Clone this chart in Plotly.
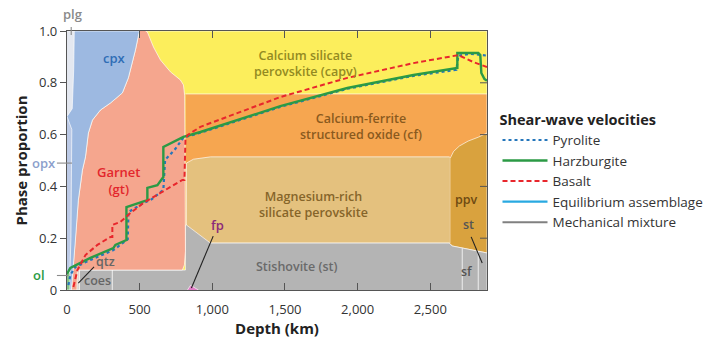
import plotly.graph_objects as go

# ---------------- axes ----------------
DEPTH_MAX = 2890
depth_ticks = [0, 500, 1000, 1500, 2000, 2500]
depth_tick_text = ["0", "500", "1,000", "1,500", "2,000", "2,500"]
prop_ticks = [0, 0.2, 0.4, 0.6, 0.8, 1.0]
prop_tick_text = ["0", "0.2", "0.4", "0.6", "0.8", "1.0"]

# ---------------- phase fields (depth km, cumulative proportion) ----------------
capv_depth = [0, DEPTH_MAX, DEPTH_MAX, 0]
capv_prop = [0, 0, 1.0, 1.0]

cf_depth = [815, DEPTH_MAX, DEPTH_MAX, 815]
cf_prop = [0, 0, 0.757, 0.757]

mgpv_depth = [822, 822, 870, 987, 2630, 2638, 2638, 987]
mgpv_prop = [0.251, 0.49, 0.505, 0.514, 0.514, 0.51, 0.181, 0.181]

ppv_depth = [2638, 2660, 2700, 2760, 2830, DEPTH_MAX, DEPTH_MAX, 2650, 2638]
ppv_prop = [0.51, 0.535, 0.556, 0.575, 0.59, 0.606, 0.143, 0.170, 0.178]

st_depth = [85, 85, 815, 815, 822, 987, 2630, 2650, DEPTH_MAX, DEPTH_MAX]
st_prop = [0, 0.077, 0.077, 0.251, 0.251, 0.181, 0.181, 0.170, 0.143, 0]

qtz_depth = [68, 85, 85, 72]
qtz_prop = [0, 0, 0.077, 0.077]

# cpx / garnet boundary, top to bottom
cpx_gt_depth = [498, 471, 422, 381, 299, 230, 175, 147, 127, 106, 78, 58, 44, 37, 30]
cpx_gt_prop = [1.0, 0.927, 0.819, 0.761, 0.722, 0.695, 0.656, 0.606, 0.514,
               0.463, 0.347, 0.193, 0.097, 0.039, 0.0]
# garnet base, right edge and capv boundary (bottom-left round to the top)
gt_edge_depth = [68, 72, 794, 808, 815, 815, 810, 801, 780, 712, 643, 595, 553, 540]
gt_edge_prop = [0, 0.077, 0.077, 0.097, 0.15, 0.6, 0.75, 0.792, 0.811, 0.842,
                0.888, 0.938, 0.996, 1.0]

opx_depth = [0, 20, 27, 31, 33, 0]
opx_prop = [0.066, 0.066, 0.2, 0.4, 0.62, 0.67]

plg_depth = [0, 50, 46, 36, 0]
plg_prop = [1.0, 1.0, 0.85, 0.7, 0.67]

ol_depth = [0, 20, 20, 0]
ol_prop = [0, 0, 0.066, 0.066]

fp_depth = [829, 850, 905]
fp_prop = [0, 0.018, 0]

# boundaries between silica polymorphs
coes_st_depth = [312, 312]
coes_st_prop = [0, 0.077]
sf_left_depth = [2720, 2720]
sf_left_prop = [0, 0.161]
sf_right_depth = [2830, 2830]
sf_right_prop = [0, 0.150]

# ---------------- shear-wave velocity profiles (scaled) ----------------
pyr_depth = [10, 23, 58, 161, 319, 402, 418, 423, 526, 574, 663, 675, 746, 801,
             918, 1468, 1929, 2384, 2679, 2693, 2780, 2890]
pyr_val = [0.019, 0.058, 0.089, 0.116, 0.154, 0.189, 0.196, 0.301, 0.336, 0.347,
           0.386, 0.502, 0.545, 0.589, 0.607, 0.707, 0.777, 0.827, 0.850, 0.905,
           0.912, 0.905]

harz_depth = [0, 23, 161, 319, 333, 402, 409, 409, 526, 553, 553, 622, 663, 663,
              801, 918, 1468, 1929, 2384, 2686, 2686, 2830, 2844, 2851, 2872, 2890]
harz_val = [0.062, 0.085, 0.124, 0.162, 0.174, 0.193, 0.193, 0.320, 0.340, 0.347,
            0.394, 0.405, 0.436, 0.552, 0.591, 0.610, 0.710, 0.780, 0.830, 0.857,
            0.915, 0.915, 0.907, 0.838, 0.815, 0.808]

bas_depth = [44, 72, 127, 209, 299, 312, 312, 367, 436, 526, 643, 712, 794, 808,
             815, 829, 918, 1468, 1929, 2384, 2693, 2796, 2890]
bas_val = [0.012, 0.077, 0.135, 0.174, 0.205, 0.205, 0.251, 0.263, 0.297, 0.336,
           0.375, 0.398, 0.425, 0.425, 0.58, 0.598, 0.630, 0.745, 0.819, 0.876,
           0.907, 0.880, 0.861]

FONT = "Open Sans"
EDGE = "rgba(255,255,255,0.65)"

fig = go.Figure()


def field(depth, prop, color, edge=EDGE):
    fig.add_trace(go.Scatter(
        x=depth, y=prop, mode="lines", fill="toself", fillcolor=color,
        line=dict(color=edge, width=1), hoverinfo="skip", showlegend=False))


def divider(depth, prop):
    fig.add_trace(go.Scatter(
        x=depth, y=prop, mode="lines", line=dict(color=EDGE, width=1.2),
        hoverinfo="skip", showlegend=False))


field(capv_depth, capv_prop, "#fcee5c")
field(cf_depth, cf_prop, "#f6a650")
field(mgpv_depth, mgpv_prop, "#e4c17e")
field(ppv_depth, ppv_prop, "#d9a23e")
field(st_depth, st_prop, "#b4b4b4")
field(qtz_depth, qtz_prop, "#d8d2d0")
field(cpx_gt_depth + gt_edge_depth, cpx_gt_prop + gt_edge_prop, "#f5a68e")
field([0] + cpx_gt_depth + [0], [1.0] + cpx_gt_prop + [0], "#9db9e1")
field(opx_depth, opx_prop, "#bccae6")
field(plg_depth, plg_prop, "#e4e8f0")
field(ol_depth, ol_prop, "#86c487")
field(fp_depth, fp_prop, "#e07cc6")
divider(coes_st_depth, coes_st_prop)
divider(sf_left_depth, sf_left_prop)
divider(sf_right_depth, sf_right_prop)

# velocity curves
fig.add_trace(go.Scatter(x=pyr_depth, y=pyr_val, mode="lines", name="Pyrolite",
                         line=dict(color="#2576bb", width=2.2, dash="dot")))
fig.add_trace(go.Scatter(x=harz_depth, y=harz_val, mode="lines", name="Harzburgite",
                         line=dict(color="#2b9a45", width=2.4)))
fig.add_trace(go.Scatter(x=bas_depth, y=bas_val, mode="lines", name="Basalt",
                         line=dict(color="#e8262c", width=2, dash="5px,3px")))
fig.add_trace(go.Scatter(x=[None], y=[None], mode="lines", name="Equilibrium assemblage",
                         line=dict(color="#29a9e1", width=2.4)))
fig.add_trace(go.Scatter(x=[None], y=[None], mode="lines", name="Mechanical mixture",
                         line=dict(color="#808080", width=2)))

# ---------------- labels ----------------
def label(x, y, text, color, size=12.5, ref="data"):
    fig.add_annotation(
        x=x, y=y, text=text, showarrow=False, xanchor="center", yanchor="middle",
        xref="x" if ref == "data" else "paper", yref="y" if ref == "data" else "paper",
        font=dict(family=FONT, size=size, color=color, weight=600),
        align="center")


label(326, 0.896, "cpx", "#2f6db5", 13)
label(354, 0.423, "Garnet<br>(gt)", "#e3262c", 13)
label(1640, 0.876, "Calcium silicate<br>perovskite (capv)", "#938a22")
label(2026, 0.633, "Calcium-ferrite<br>structured oxide (cf)", "#8a5a1e")
label(1695, 0.332, "Magnesium-rich<br>silicate perovskite", "#86652a")
label(1585, 0.089, "Stishovite (st)", "#6a6a6a")
label(1035, 0.250, "fp", "#8b2a7a", 13)
label(265, 0.110, "qtz", "#666666")
label(212, 0.036, "coes", "#666666")
label(2748, 0.351, "ppv", "#6e4a12")
label(2762, 0.251, "st", "#555555")
label(2750, 0.073, "sf", "#555555")

# labels outside the plot area
label(-0.055, 0.490, "opx", "#8c9fcc", 13, ref="paper")
label(-0.066, 0.058, "ol", "#2b9a45", 13, ref="paper")
label(0.012, 1.066, "plg", "#8a8a8a", 13, ref="paper")

# leader lines
lines = [
    dict(xref="x", yref="y", x0=1006, y0=0.208, x1=856, y1=0.008),
    dict(xref="x", yref="y", x0=186, y0=0.089, x1=78, y1=0.027),
    dict(xref="x", yref="y", x0=2781, y0=0.205, x1=2857, y1=0.104),
    dict(xref="paper", yref="paper", x0=-0.024, y0=0.490, x1=0.012, y1=0.490),
    dict(xref="paper", yref="paper", x0=-0.024, y0=0.056, x1=0.003, y1=0.056),
    dict(xref="paper", yref="paper", x0=0.010, y0=1.015, x1=0.010, y1=0.985),
]
for ln in lines:
    col = "#222222" if ln["xref"] == "x" else "#8a8a8a"
    fig.add_shape(type="line", line=dict(color=col, width=1.1), **ln)

# inward ticks on the right-hand frame
for v in prop_ticks[1:-1]:
    fig.add_shape(type="line", xref="paper", yref="y", x0=1.0, x1=1.0 - 7 / 420,
                  y0=v, y1=v, line=dict(color="#555555", width=1))

fig.update_layout(
    width=722, height=338,
    margin=dict(l=67, r=235, t=31, b=48, autoexpand=False),
    paper_bgcolor="white", plot_bgcolor="white",
    font=dict(family=FONT, size=13, color="#333333"),
    showlegend=True,
    legend=dict(
        x=1.025, y=0.711, xanchor="left", yanchor="top",
        title=dict(text="<b>Shear-wave velocities</b>",
                   font=dict(family=FONT, size=14.5, color="#222222")),
        font=dict(family=FONT, size=13.5, color="#333333"),
        itemwidth=45, tracegroupgap=0, bgcolor="rgba(0,0,0,0)",
    ),
    xaxis=dict(
        range=[0, DEPTH_MAX], tickvals=depth_ticks, ticktext=depth_tick_text,
        ticks="inside", ticklen=7, tickcolor="#555555", showgrid=False, zeroline=False,
        showline=True, linecolor="#555555", linewidth=1.2, mirror="ticks",
        ticklabelstandoff=7, automargin=False,
        tickfont=dict(size=13, color="#333333"),
        title=dict(text="<b>Depth (km)</b>", font=dict(size=15, color="#222222"), standoff=10),
    ),
    yaxis=dict(
        range=[0, 1.0], tickvals=prop_ticks, ticktext=prop_tick_text,
        ticks="outside", ticklen=6, tickcolor="#555555", showgrid=False, zeroline=False,
        showline=True, linecolor="#555555", linewidth=1.2, mirror=True,
        automargin=False,
        tickfont=dict(size=13, color="#333333"),
        title=dict(text="<b>Phase proportion</b>", font=dict(size=15, color="#222222"), standoff=7),
    ),
)

fig.write_html("out.html")
